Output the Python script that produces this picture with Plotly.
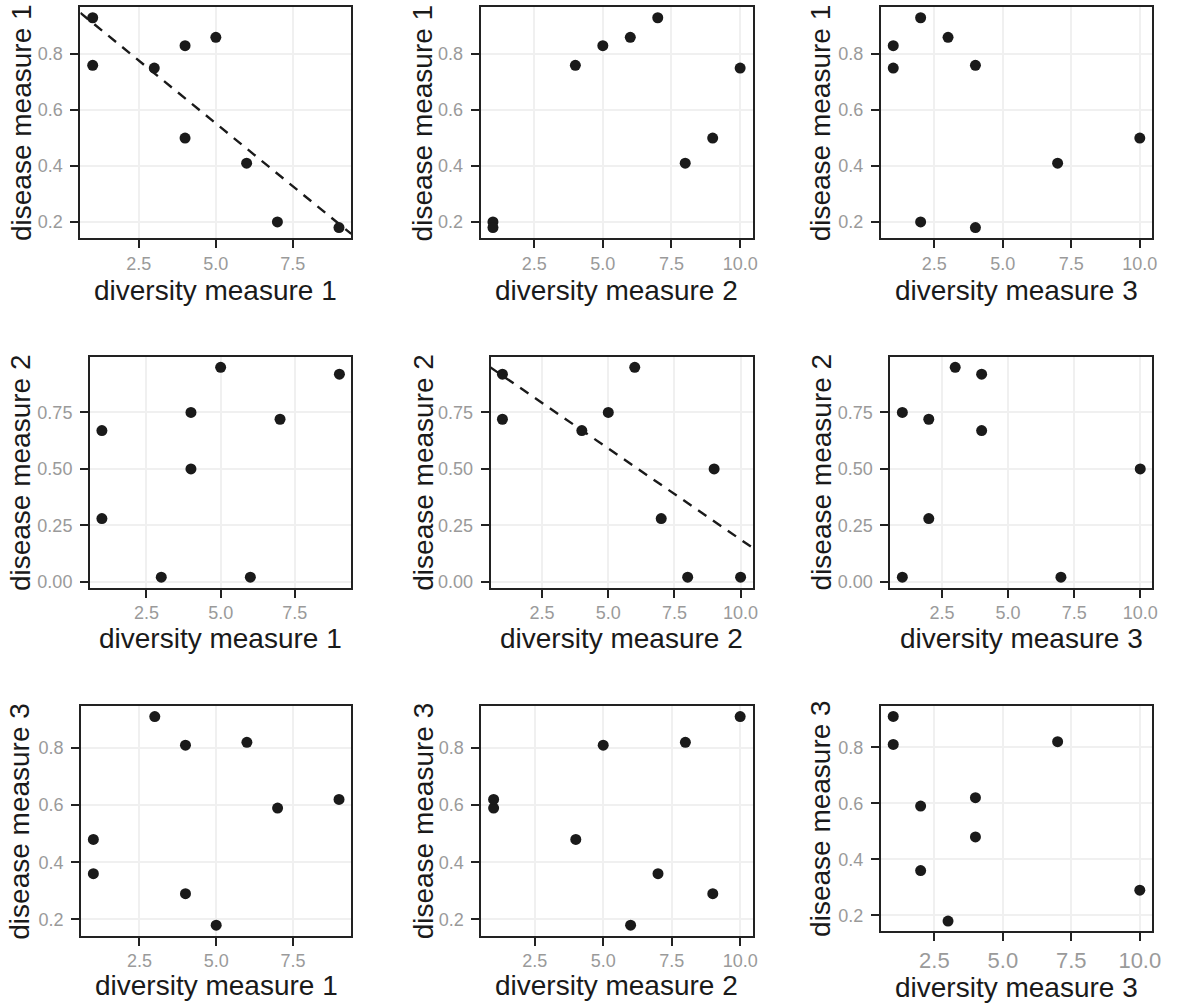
import numpy as np
import plotly.graph_objects as go

# ---- data (one row per sample) ----
div1 = [1, 1, 3, 4, 4, 5, 6, 7, 9]
div2 = [7, 4, 10, 5, 9, 6, 8, 1, 1]
div3 = [2, 4, 1, 1, 10, 3, 7, 2, 4]
dis1 = [0.93, 0.76, 0.75, 0.83, 0.50, 0.86, 0.41, 0.20, 0.18]
dis2 = [0.28, 0.67, 0.02, 0.75, 0.50, 0.95, 0.02, 0.72, 0.92]
dis3 = [0.36, 0.48, 0.91, 0.81, 0.29, 0.18, 0.82, 0.59, 0.62]

diversity = [div1, div2, div3]
disease = [dis1, dis2, dis3]
div_labels = ["diversity measure 1", "diversity measure 2", "diversity measure 3"]
dis_labels = ["disease measure 1", "disease measure 2", "disease measure 3"]

x_ticks = [2.5, 5.0, 7.5, 10.0]
x_ticktext = ["2.5", "5.0", "7.5", "10.0"]
y_ticks_a = [0.2, 0.4, 0.6, 0.8]
y_ticktext_a = ["0.2", "0.4", "0.6", "0.8"]
y_ticks_b = [0.0, 0.25, 0.50, 0.75]
y_ticktext_b = ["0.00", "0.25", "0.50", "0.75"]

trend_panels = [(0, 0), (1, 1)]

# ---- layout geometry (pixels) ----
W, H = 1178, 1006
# (left, top, right, bottom) for each [row][col]
boxes = [
    [(81, 7.3, 354, 239), (484.3, 7.3, 758.3, 239), (887.7, 7.3, 1161, 239)],
    [(90.7, 358.3, 354, 590), (494.3, 358.3, 758.3, 590), (897.3, 358.3, 1161, 590)],
    [(81.7, 709, 354, 939.3), (485, 709, 758.3, 939.3), (887.7, 709, 1161, 935)],
]
ytitle_x = [[21.5, 426, 827], [20, 426.7, 827.5], [20, 426.7, 827.5]]
xtitle_y = [[291.7, 291.7, 291.7], [641, 641, 641], [989, 989, 991]]

FONT = "Liberation Sans, Arial, Helvetica, sans-serif"
DARK = "#1a1a1a"
BORDER = "#222222"
GRID = "#F0F0F0"
TICKLAB = "#9a9a9a"

fig = go.Figure()
layout = dict(
    width=W, height=H,
    margin=dict(l=0, r=0, t=0, b=0),
    paper_bgcolor="white", plot_bgcolor="white",
    showlegend=False,
    annotations=[],
)

def expand(vals):
    lo, hi = min(vals), max(vals)
    pad = 0.05 * (hi - lo)
    return [lo - pad, hi + pad]

for r in range(3):
    for c in range(3):
        k = r * 3 + c + 1
        xs = diversity[c]
        ys = disease[r]
        xa = "x" if k == 1 else f"x{k}"
        ya = "y" if k == 1 else f"y{k}"
        L, T, R, B = boxes[r][c]
        xr = expand(xs)
        yr = expand(ys)

        if (r, c) in trend_panels:
            slope, icpt = np.polyfit(xs, ys, 1)
            lx = np.array(xr)
            fig.add_trace(go.Scatter(
                x=lx, y=icpt + slope * lx, mode="lines", xaxis=xa, yaxis=ya,
                line=dict(color=DARK, width=2.4, dash="10px,8px"), hoverinfo="skip"))

        fig.add_trace(go.Scatter(
            x=xs, y=ys, mode="markers", xaxis=xa, yaxis=ya,
            marker=dict(size=11, color=DARK, line=dict(width=0))))

        big = (r == 2 and c == 2)
        xkey = "xaxis" if k == 1 else f"xaxis{k}"
        ykey = "yaxis" if k == 1 else f"yaxis{k}"
        common = dict(
            showline=True, linecolor=BORDER, linewidth=2, mirror=True,
            ticks="outside", ticklen=8, tickwidth=2, tickcolor=BORDER,
            showgrid=True, gridcolor=GRID, gridwidth=2, zeroline=False,
        )
        layout[xkey] = dict(
            domain=[L / W, R / W], range=xr, anchor=ya,
            tickvals=x_ticks, ticktext=x_ticktext,
            tickfont=dict(family=FONT, size=22 if big else 18, color=TICKLAB),
            **common)
        yt, ytt = (y_ticks_b, y_ticktext_b) if r == 1 else (y_ticks_a, y_ticktext_a)
        layout[ykey] = dict(
            domain=[1 - B / H, 1 - T / H], range=yr, anchor=xa,
            tickvals=yt, ticktext=ytt,
            tickfont=dict(family=FONT, size=18, color=TICKLAB),
            ticklabelstandoff=4,
            **common)

        # axis titles
        layout["annotations"].append(dict(
            text=div_labels[c], xref="paper", yref="paper",
            x=((L + R) / 2) / W, y=1 - xtitle_y[r][c] / H,
            xanchor="center", yanchor="middle", showarrow=False,
            font=dict(family=FONT, size=28, color=DARK)))
        layout["annotations"].append(dict(
            text=dis_labels[r], xref="paper", yref="paper",
            x=ytitle_x[r][c] / W, y=1 - ((T + B) / 2) / H,
            xanchor="center", yanchor="middle", showarrow=False, textangle=-90,
            font=dict(family=FONT, size=28, color=DARK)))

fig.update_layout(**layout)
fig.write_html(
    "out.html",
    config={"displayModeBar": False},
    post_script="document.body.style.margin='0';document.body.style.padding='0';",
)
